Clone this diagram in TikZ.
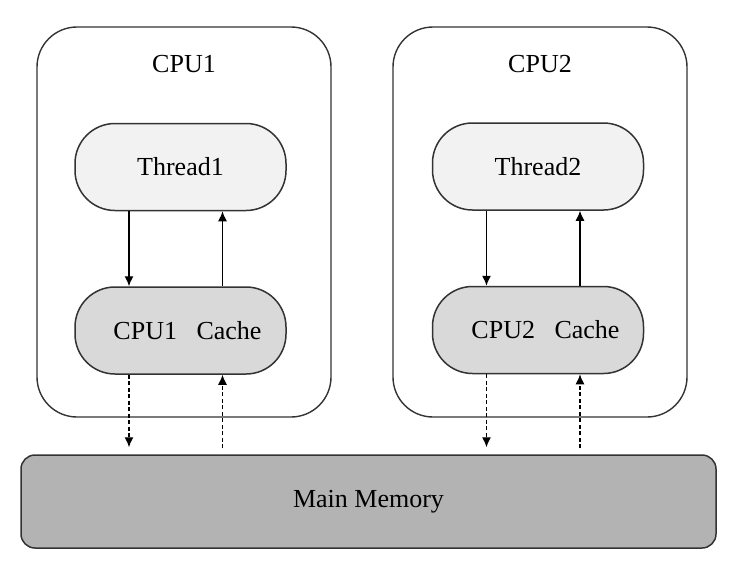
\documentclass[tikz,border=0pt]{standalone}
\usepackage{fontspec}
\setmainfont{Liberation Serif}
\usepackage{tikz}
\usetikzlibrary{arrows.meta}
\usetikzlibrary{positioning}
\definecolor{edgegray}{HTML}{333333}
\definecolor{threadfill}{HTML}{F2F2F2}
\definecolor{cachefill}{HTML}{D9D9D9}
\definecolor{memfill}{HTML}{B3B3B3}
\tikzset{cpubox/.style = {draw=edgegray, line width=1.4pt, rounded corners=40pt, minimum width=294pt, minimum height=390pt}}
\tikzset{thread/.style = {draw=edgegray, fill=threadfill, line width=1.5pt, rounded corners=40pt, minimum width=211pt, minimum height=87pt, font=\fontsize{26}{31}\selectfont}}
\tikzset{cache/.style = {thread, fill=cachefill}}
\tikzset{memory/.style = {draw=edgegray, fill=memfill, line width=1.5pt, rounded corners=14pt, minimum width=695pt, minimum height=93pt, font=\fontsize{26}{31}\selectfont}}
\tikzset{cpulabel/.style = {font=\fontsize{26}{31}\selectfont}}
\tikzset{link/.style = {line width=1.3pt, -{Latex[length=10pt,width=9pt]}}}
\tikzset{bus/.style = {link, dash pattern=on 4pt off 2.5pt}}

\begin{document}
\begin{tikzpicture}[x=1pt, y=-1pt]
      \useasboundingbox (0, 0) rectangle (739, 570);

      \node [cpubox] (cpu1) at (184, 222) {};
      \node [cpulabel] (l1) at (184, 64) {CPU1};
      \node [thread] (t1) at (180.5, 167) {Thread1};
      \node [cache, below=75pt of t1] (c1) {\hspace*{14pt}CPU1\hspace{0.5em} Cache};

      \node [cpubox] (cpu2) at (540, 222) {};
      \node [cpulabel] (l2) at (540, 64) {CPU2};
      \node [thread] (t2) at (538, 166.5) {Thread2};
      \node [cache, below=75pt of t2] (c2) {\hspace*{15pt}CPU2\hspace{0.5em} Cache};

      \node [memory] (mem) at (368.5, 501.5) {Main Memory};

      \foreach \t/\c in {t1/c1, t2/c2} {
        \draw [link] ([xshift=-51.5pt]\t.south) -- ([xshift=-51.5pt]\c.north);
        \draw [link] ([xshift=42pt]\c.north) -- ([xshift=42pt]\t.south);
        \draw [bus, shorten >=7pt] ([xshift=-51.5pt]\c.south) -- ([xshift=-51.5pt]\c.south |- mem.north);
        \draw [bus, shorten <=6pt] ([xshift=42pt]\c.south |- mem.north) -- ([xshift=42pt]\c.south);
      }
    \end{tikzpicture}
\end{document}
